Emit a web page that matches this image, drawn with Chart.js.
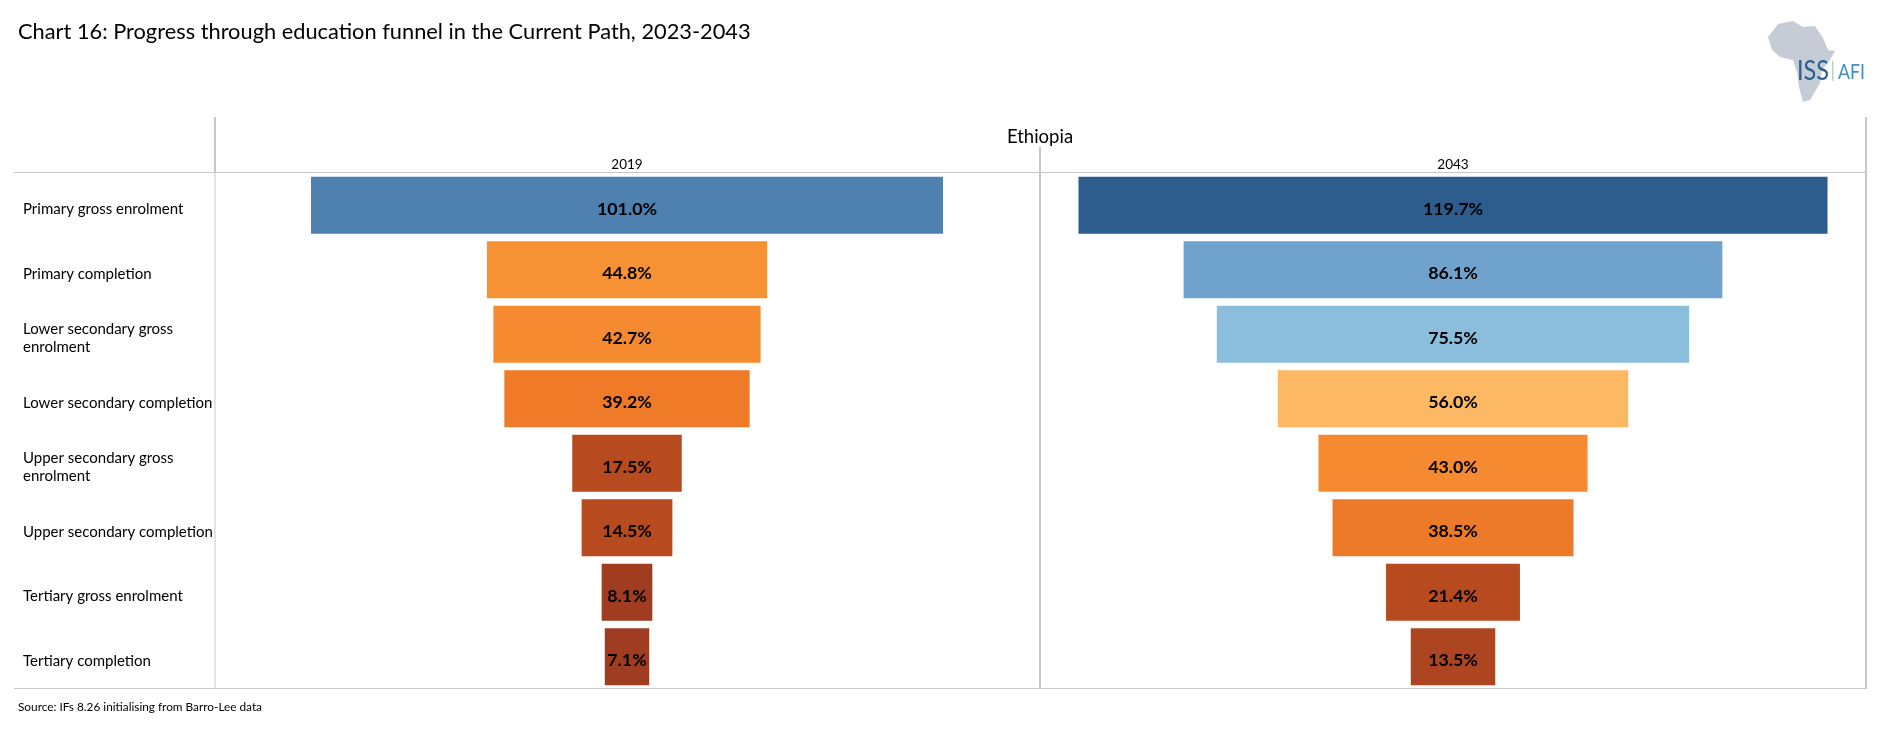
<!DOCTYPE html>
<html>
<head>
<meta charset="utf-8">
<title>Chart 16</title>
<script src="https://cdn.jsdelivr.net/npm/chart.js@4"></script>
<style>
  html, body { margin: 0; padding: 0; background: #fff; }
  body { width: 1880px; height: 739px; position: relative; overflow: hidden; font-family: Lato, sans-serif; color: #000; }
  #wrap { position: absolute; left: 0; top: 0; width: 1880px; height: 739px; }
  #title { position: absolute; left: 18px; top: 18px; font-size: 21.8px; line-height: 26px; white-space: nowrap; }
  #source { position: absolute; left: 18px; top: 698px; font-size: 11.8px; line-height: 17px; white-space: nowrap; }
  #logo { position: absolute; left: 1760px; top: 10px; }
</style>
</head>
<body>
<div id="wrap"><canvas id="funnel" width="1880" height="739"></canvas></div>
<div id="title">Chart 16: Progress through education funnel in the Current Path, 2023-2043</div>
<div id="source">Source: IFs 8.26 initialising from Barro-Lee data</div>
<svg id="logo" width="110" height="100" viewBox="1760 10 110 100">
  <polygon fill="#c5ccd6" points="1768,37 1778,24 1793,21 1803,27 1815,26 1823,38 1828,50 1835,51 1830,60 1822,70 1820,83 1810,100 1803,102 1799,87 1797,72 1793,60 1780,57 1772,50"/>
  <text x="1797" y="80" font-family="Lato, sans-serif" font-size="26" fill="#2c5d8c" textLength="32" lengthAdjust="spacingAndGlyphs">ISS</text>
  <rect x="1832" y="61" width="1.5" height="20" fill="#b9d3c4"/>
  <text x="1838" y="79" font-family="Lato, sans-serif" font-size="22" fill="#3f8fc4" textLength="27" lengthAdjust="spacingAndGlyphs">AFI</text>
</svg>

<script>
// Values
const categories = [
  "Primary gross enrolment",
  "Primary completion",
  ["Lower secondary gross", "enrolment"],
  "Lower secondary completion",
  ["Upper secondary gross", "enrolment"],
  "Upper secondary completion",
  "Tertiary gross enrolment",
  "Tertiary completion",
];
const values2019 = [101.0, 44.8, 42.7, 39.2, 17.5, 14.5, 8.1, 7.1];
const values2043 = [119.7, 86.1, 75.5, 56.0, 43.0, 38.5, 21.4, 13.5];
const colors2019 = ["#4e80b0", "#f79234", "#f58a31", "#ef7a27", "#b84a20", "#b84a20", "#a03d20", "#a03d20"];
const colors2043 = ["#2c5d8c", "#6fa3ce", "#8bbddc", "#fdb863", "#f58a31", "#ed7a28", "#b84a20", "#ad4520"];
const years = ["2019", "2043"];
const country = "Ethiopia";

const FONT = "Lato, sans-serif";
const LINE = "#c8c8c8";

// Funnel bars are floating, centred on zero
function centred(values) {
  return values.map((v) => [-v / 2, v / 2]);
}

// Top axes are laid out highest weight first
function yearAxis(title, weight) {
  return {
    type: "linear",
    position: "top",
    stack: "years",
    stackWeight: 1,
    weight: weight,
    min: -66,
    max: 66,
    grid: { display: false },
    border: { display: false },
    ticks: { display: false },
    title: { display: true, text: title, color: "#000", font: { family: FONT, size: 13.5 }, padding: { top: 0, bottom: 2 } },
    afterFit: (scale) => { scale.height = 16; },
  };
}

// Table lines round the panels, and the country heading
const frame = {
  id: "frame",
  beforeDatasetsDraw(chart) {
    const { ctx, chartArea: a } = chart;
    const mid = chart.scales.x2019.right;
    const vline = (x, top, w) => {
      ctx.fillStyle = LINE;
      ctx.fillRect(x - w / 2, top, w, a.bottom - top);
    };
    ctx.save();
    ctx.fillStyle = LINE;
    ctx.fillRect(14, a.top - 1, a.right - 14, 1);
    ctx.fillRect(14, a.bottom - 1, a.right - 14, 1);
    ctx.fillRect(a.left, 117, 2, a.top - 117);
    vline(a.left + 1, a.top, 1);
    vline(mid, 147, 2);
    vline(a.right, 117, 2);
    ctx.fillStyle = "#000";
    ctx.font = "18.5px " + FONT;
    ctx.textAlign = "center";
    ctx.textBaseline = "middle";
    ctx.fillText(country, mid, 137);
    ctx.restore();
  },
};

const barLabels = {
  id: "barLabels",
  afterDatasetsDraw(chart) {
    const { ctx } = chart;
    ctx.save();
    ctx.fillStyle = "#000";
    ctx.font = "bold 17.8px " + FONT;
    ctx.textAlign = "center";
    ctx.textBaseline = "middle";
    chart.data.datasets.forEach((ds, i) => {
      chart.getDatasetMeta(i).data.forEach((bar, j) => {
        const v = ds.data[j][1] * 2;
        const c = bar.getCenterPoint();
        ctx.fillText(v.toFixed(1) + "%", c.x, c.y + 4);
      });
    });
    ctx.restore();
  },
};

new Chart(document.getElementById("funnel"), {
  type: "bar",
  data: {
    labels: categories,
    datasets: [
      { label: years[0], data: centred(values2019), backgroundColor: colors2019, xAxisID: "x2019" },
      { label: years[1], data: centred(values2043), backgroundColor: colors2043, xAxisID: "x2043" },
    ],
  },
  options: {
    indexAxis: "y",
    responsive: false,
    animation: false,
    layout: { padding: { left: 23, right: 14, top: 157, bottom: 50 } },
    datasets: { bar: { grouped: false, categoryPercentage: 1, barPercentage: 0.884, borderWidth: 0 } },
    plugins: { legend: { display: false }, tooltip: { enabled: false } },
    scales: {
      x2019: yearAxis(years[0], 1),
      x2043: yearAxis(years[1], 0),
      y: {
        type: "category",
        position: "left",
        grid: { display: false },
        border: { display: false },
        ticks: {
          crossAlign: "far",
          color: "#000",
          autoSkip: false,
          padding: 0,
          labelOffset: 4,
          font: { family: FONT, size: 15, lineHeight: "18px" },
        },
        afterFit: (scale) => { scale.width = 191; },
      },
    },
  },
  plugins: [frame, barLabels],
});
</script>
</body>
</html>
